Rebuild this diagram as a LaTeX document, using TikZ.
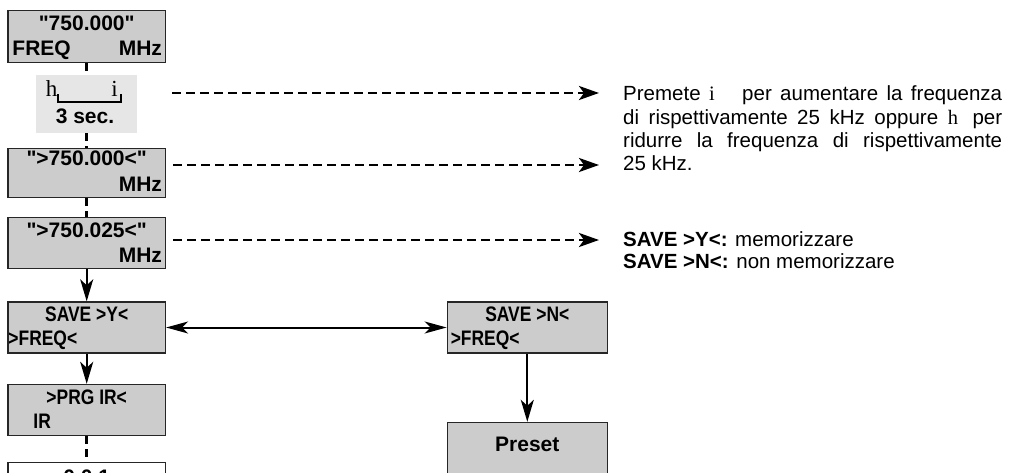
\documentclass[tikz,border=0pt]{standalone}
\usepackage{fontspec}
\setmainfont{Liberation Sans}[Ligatures=TeXOff]
\newfontfamily\keyfont{Liberation Serif}
\usepackage{graphicx}
\usetikzlibrary{arrows.meta,positioning}
\definecolor{lcdc}{HTML}{CCCCCC}
\definecolor{keyc}{HTML}{E6E6E6}
\definecolor{framec}{HTML}{262626}
\newcommand{\cnd}[1]{\scalebox{0.83}[1]{#1}}
\tikzset{
  lcd/.style={draw=framec,line width=1.4pt,fill=lcdc,minimum width=157.5pt,minimum height=51pt,inner sep=0pt},
  keyarea/.style={fill=keyc,minimum width=101pt,minimum height=58pt,inner sep=0pt},
  lbl/.style={font=\fontsize{21}{23}\selectfont\bfseries,inner sep=0pt},
  keylbl/.style={inner sep=0pt,font=\fontsize{23}{25}\selectfont\keyfont},
  note/.style={align=left,inner sep=0pt,font=\fontsize{20.5}{23.3}\selectfont},
  ar/.style={-{Stealth[length=22pt,width=13pt,inset=6pt]},line width=2pt},
  dbl/.style={{Stealth[length=22pt,width=12pt,inset=6pt]}-{Stealth[length=22pt,width=12pt,inset=6pt]},line width=2pt},
  dar/.style={-{Stealth[length=20pt,width=14pt,inset=5pt]},line width=2.7pt,dash pattern=on 9pt off 5pt},
  vd/.style={line width=3pt,dash pattern=on 8pt off 5pt}
}

\begin{document}
\begin{tikzpicture}[x=1pt,y=-1pt]
\useasboundingbox (0,0) rectangle (1019,473);
\clip (0,0) rectangle (1019,473);
% left column
\node[lcd,minimum height=52pt] (f0) at (86.7,36.5) {};
\node[keyarea] (keys) at (86.7,104) {};
\node[lcd,minimum height=49pt] (f1) at (86.7,173) {};
\node[lcd] (f2) at (86.7,243) {};
\node[lcd] (sy) at (86.7,327.5) {};
\node[lcd] (ir) at (86.7,410) {};
\node[lcd,fill=white] (nx) at (86.7,488) {};
% right column
\node[lcd,minimum width=160pt] (sn) at (527.3,327.5) {};
\node[lcd,minimum width=160pt] (ps) at (527.3,448) {};

\node[lbl,anchor=base] at ([yshift=-20.5pt]f0.north) {"750.000"};
\node[lbl,anchor=base west] at ([xshift=5pt,yshift=7.5pt]f0.south west) {FREQ};
\node[lbl,anchor=base east] at ([xshift=-4pt,yshift=7.5pt]f0.south east) {MHz};
\node[lbl,anchor=base] at ([yshift=-18pt]f1.north) {">750.000<"};
\node[lbl,anchor=base east] at ([xshift=-4pt,yshift=7pt]f1.south east) {MHz};
\node[lbl,anchor=base] at ([yshift=-20.5pt]f2.north) {">750.025<"};
\node[lbl,anchor=base east] at ([xshift=-4pt,yshift=7pt]f2.south east) {MHz};
\node[lbl,anchor=base] at ([yshift=-20pt]sy.north) {\cnd{SAVE >Y<}};
\node[lbl,anchor=base west] at ([xshift=1pt,yshift=8pt]sy.south west) {\cnd{>FREQ<}};
\node[lbl,anchor=base] at ([yshift=-20.5pt]ir.north) {\cnd{>PRG IR<}};
\node[lbl,anchor=base west] at ([xshift=26pt,yshift=8pt]ir.south west) {\cnd{IR}};
\node[lbl,anchor=base] at ([yshift=-23pt]nx.north) {0.0.1};
\node[lbl,anchor=base] at ([yshift=-20pt]sn.north) {\cnd{SAVE >N<}};
\node[lbl,anchor=base west] at ([xshift=4pt,yshift=8pt]sn.south west) {\cnd{>FREQ<}};
\node[lbl,anchor=base] at ([yshift=-30pt]ps.north) {Preset};

% key symbols
\node[keylbl,anchor=base] at (51.7,96.7) {h};
\node[keylbl,anchor=base] at (114.5,96.7) {i};
\draw[line width=2pt] (58.3,94.3) -- (58.3,101.7) -- (120.7,101.7) -- (120.7,94.3);
\node[lbl,anchor=base] at (85,123.3) {3 sec.};

\draw[vd] (f0) -- (keys);
\draw[vd] (keys) -- (f1);
\draw[vd] (f1) -- (f2);
\draw[ar] (f2) -- (sy);
\draw[ar] (sy) -- (ir);
\draw[vd] (ir) -- (nx);
\draw[dbl] (sy) -- (sn);
\draw[ar] (sn) -- (ps);

% notes
\node[note,anchor=north west] (n1) at (623,85.7) {\makebox[379pt][s]{Premete {\keyfont i}\hspace{19pt} per aumentare la frequenza}\\
\makebox[379pt][s]{di rispettivamente 25 kHz oppure {\keyfont h}\hspace{5pt} per}\\
\makebox[379pt][s]{ridurre la frequenza di rispettivamente}\\
25 kHz.};
\node[note,font=\fontsize{20.5}{21.7}\selectfont,anchor=north west] (n2) at (623,231.3) {\textbf{SAVE >Y<:} memorizzare\\
\textbf{SAVE >N<:} non memorizzare};

\coordinate (t1) at (599,93);
\coordinate (t2) at (599,165);
\coordinate (t3) at (599,240);
\draw[dar] ([xshift=35pt]keys.east |- t1) -- (t1);
\draw[dar] ([xshift=7pt]f1.east |- t2) -- (t2);
\draw[dar] ([xshift=7pt]f2.east |- t3) -- (t3);
\end{tikzpicture}
\end{document}
